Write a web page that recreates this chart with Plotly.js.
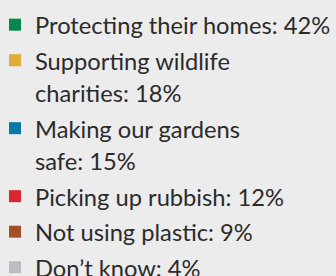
<!DOCTYPE html>
<html>
<head>
<meta charset="utf-8">
<script src="https://cdn.plot.ly/plotly-3.0.1.min.js"></script>
<style>html,body{margin:0;padding:0;background:#ececec;}#chart{width:336px;height:276px;}</style>
</head>
<body>
<div id="chart"></div>
<script>
var categories = ["Protecting their homes", "Supporting wildlife<br>charities", "Making our gardens<br>safe", "Picking up rubbish", "Not using plastic", "Don’t know"];
var values = [42, 18, 15, 12, 9, 4];
var colors = ["#06874b", "#e0ab36", "#0a78a6", "#d9262f", "#a3502a", "#bcbdc0"];

var labels = categories.map(function (c, i) {
  return '<span style="font-size:23.7px">' + c.split("<br>").join('</span><br><span style="font-size:23.7px">') + ": " + values[i] + "%</span>";
});

var trace = {
  type: "pie",
  labels: labels,
  values: values,
  sort: false,
  direction: "clockwise",
  marker: { colors: colors },
  textinfo: "none",
  hoverinfo: "none",
  domain: { x: [0.999, 1], y: [0, 0.001] }
};

var layout = {
  width: 336,
  height: 276,
  margin: { l: 0, r: 0, t: 0, b: 0, autoexpand: false },
  paper_bgcolor: "#ececec",
  plot_bgcolor: "#ececec",
  showlegend: true,
  legend: {
    x: -5 / 336, xanchor: "left",
    y: 0.993, yanchor: "top",
    valign: "top",
    bgcolor: "rgba(0,0,0,0)",
    font: { family: "Lato, sans-serif", size: 25, color: "#2b2b2b" },
    itemclick: false, itemdoubleclick: false
  }
};

Plotly.newPlot("chart", [trace], layout, { displayModeBar: false, staticPlot: true });
</script>
</body>
</html>
